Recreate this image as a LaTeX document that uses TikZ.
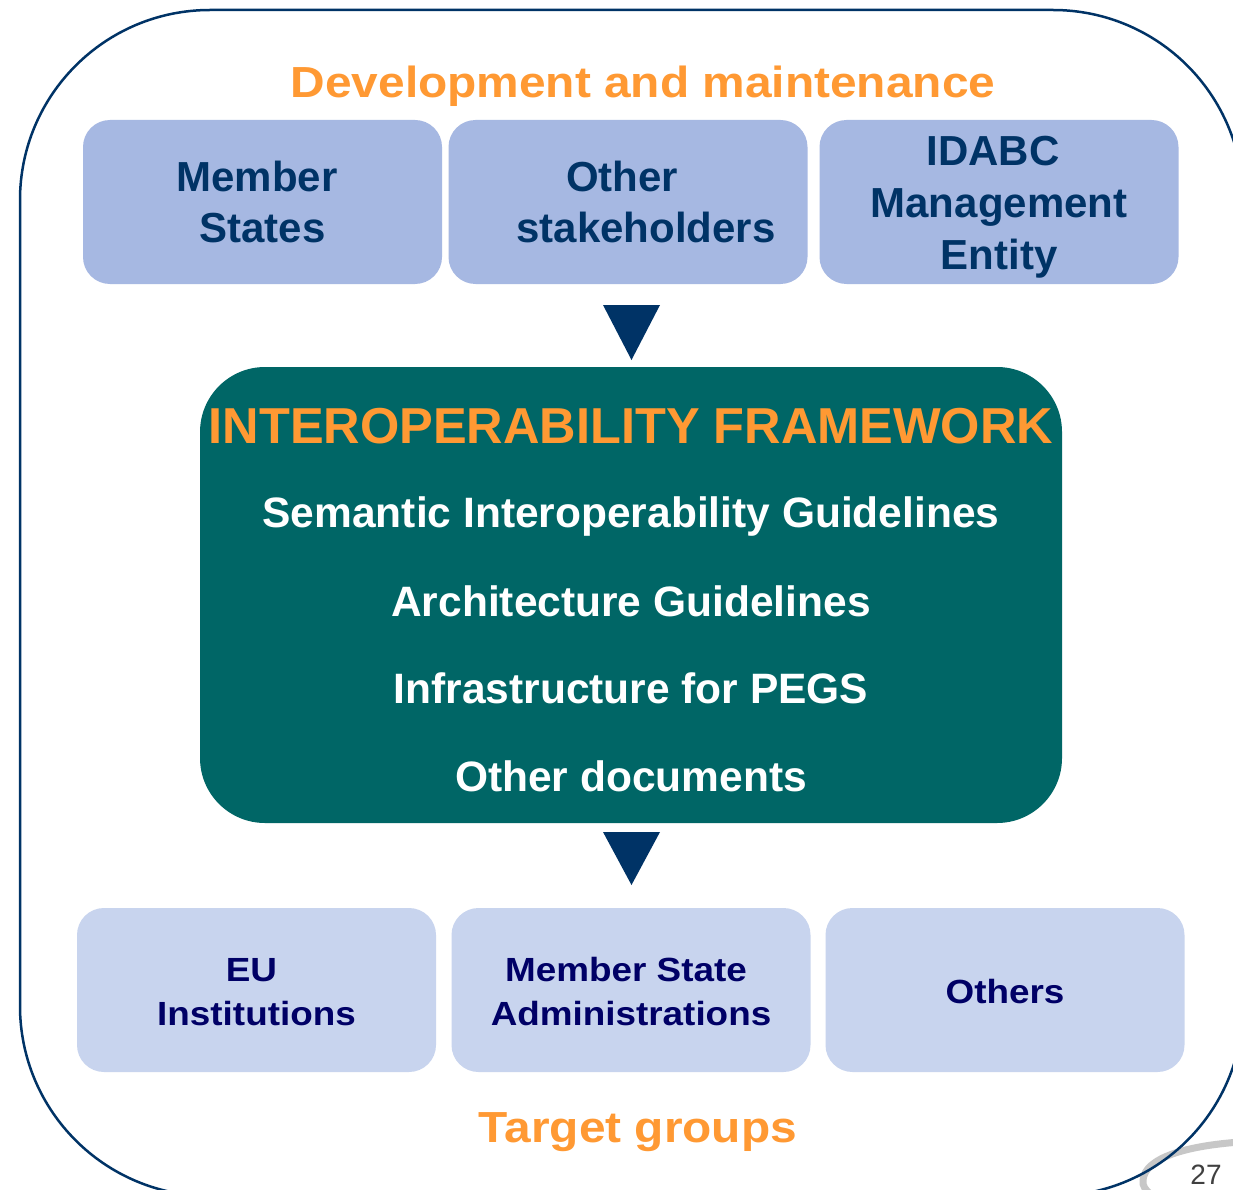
\documentclass[tikz,border=0pt]{standalone}
\usepackage{fontspec}
\setmainfont{Liberation Sans}
\newfontfamily\widesans[FakeStretch=1.1]{Liberation Sans}
\definecolor{navy}{HTML}{003366}
\definecolor{deepblue}{HTML}{000066}
\definecolor{topfill}{HTML}{A6B8E2}
\definecolor{botfill}{HTML}{C8D4EE}
\definecolor{teal}{HTML}{006666}
\definecolor{orng}{HTML}{FF9933}
\definecolor{pagegray}{HTML}{404040}
\tikzset{
  topbox/.style={fill=topfill, rounded corners=27pt, minimum width=359pt, minimum height=164pt,
    inner sep=0pt, align=center, text=navy, font=\fontsize{42}{51.5}\selectfont\bfseries},
  botbox/.style={fill=botfill, rounded corners=27pt, minimum width=359pt, minimum height=164pt,
    inner sep=0pt, align=center, text=deepblue, font=\widesans\fontsize{33.5}{44}\selectfont\bfseries},
  heading/.style={text=orng, inner sep=0pt, font=\widesans\fontsize{43.5}{50}\selectfont\bfseries},
  gline/.style={text=white, inner sep=0pt, font=\fontsize{42.5}{50}\selectfont\bfseries},
  pointer/.style={fill=navy}
}
\begin{document}
\begin{tikzpicture}[x=1pt,y=-1pt]
\useasboundingbox (0,0) rectangle (1233,1190);
\clip (0,0) rectangle (1233,1190);
\fill[white] (0,0) rectangle (1233,1190);
% page decoration
\draw[line width=7pt, black!22, line cap=round] (1240,1142) .. controls (1185,1146) and (1145,1158) .. (1143,1180) .. controls (1142,1186) and (1146,1190) .. (1150,1194);
\node[text=pagegray, inner sep=0pt, font=\fontsize{28}{32}\selectfont] (pagenum) at (1206,1175) {27};
% outer frame
\draw[navy, line width=2.5pt, rounded corners=190pt] (20,10) rectangle (1243,1196);
% title
\node[heading] (title) at (643,86) {Development and maintenance};
% top boxes
\node[topbox] (ms) at (262.5,202) {Member\hspace*{11pt}\\ States};
\node[topbox] (other) at (628,202) {Other\hspace*{12pt}\\ \hspace*{36pt}stakeholders};
\node[topbox] (idabc) at (999,202) {};
\node[text=navy, inner sep=0pt, align=center, font=\fontsize{42}{52}\selectfont\bfseries] (idabctext) at (999,207) {IDABC\hspace*{12pt}\\ Management\hspace*{12pt}\\ Entity};
% framework
\node[fill=teal, rounded corners=65pt, minimum width=862pt, minimum height=456pt, inner sep=0pt] (frame) at (631,595) {};
\node[text=orng, inner sep=0pt, font=\fontsize{50.5}{56}\selectfont\bfseries] (iftitle) at (631,426) {INTEROPERABILITY FRAMEWORK};
\node[gline] (sem) at (631,517) {Semantic Interoperability Guidelines};
\node[gline] (arch) at (631,601) {Architecture Guidelines};
\node[gline] (infra) at (631,688) {Infrastructure for PEGS};
\node[gline] (odoc) at (631,776) {Other documents};
% arrows
\fill[pointer] (603,305) -- (660,305) -- (631.5,360) -- cycle;
\fill[pointer] (603,832) -- (660,832) -- (631.5,885) -- cycle;
% bottom boxes
\node[botbox] (eu) at (256.5,990) {};
\node[text=deepblue, inner sep=0pt, align=center, font=\widesans\fontsize{33.5}{44}\selectfont\bfseries] (eutext) at (256.5,992) {EU\hspace*{10pt}\\ Institutions};
\node[botbox] (msa) at (631,990) {};
\node[text=deepblue, inner sep=0pt, align=center, font=\widesans\fontsize{33.5}{44}\selectfont\bfseries] (msatext) at (631,992) {Member State\hspace*{10pt}\\ Administrations};
\node[botbox] (others) at (1005,990) {};
\node[text=deepblue, inner sep=0pt, font=\widesans\fontsize{33.5}{44}\selectfont\bfseries] (otherstext) at (1005,992) {Others};
% target groups
\node[heading] (target) at (638,1132) {Target groups};
\end{tikzpicture}
\end{document}
